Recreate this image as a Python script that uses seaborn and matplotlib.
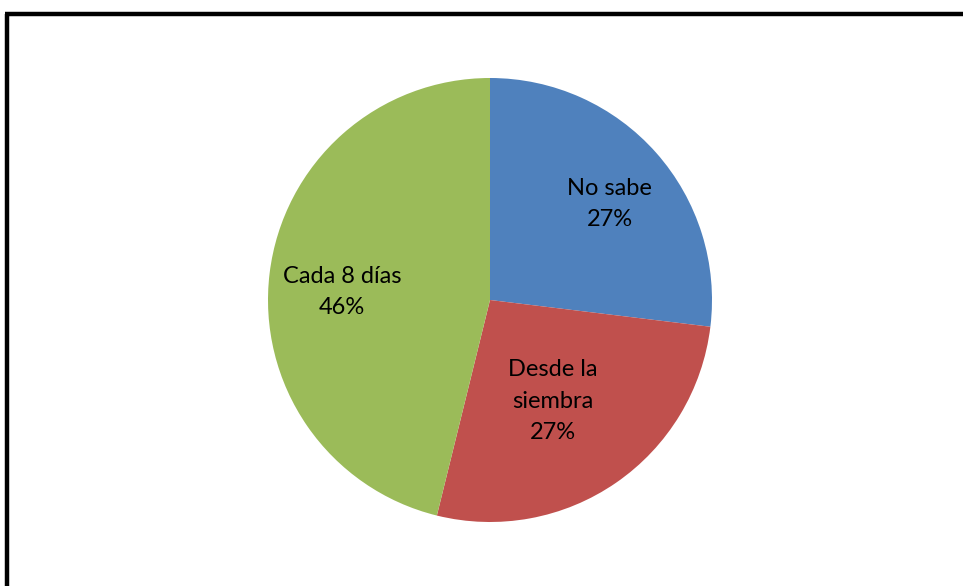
"""Pie chart: frecuencia"""
import numpy as np
import matplotlib
matplotlib.use("Agg")
import matplotlib.pyplot as plt
from matplotlib.lines import Line2D
import seaborn as sns

categories = ["No sabe", "Desde la\nsiembra", "Cada 8 días"]
values = [7, 7, 12]
colors = ["#4F81BD", "#C0504D", "#9BBB59"]
label_dist = [0.72, 0.50, 0.67]

sns.set_theme(style="white")
plt.rcParams["font.family"] = ["Lato", "DejaVu Sans"]

W, H = 963, 586
fig = plt.figure(figsize=(W / 100, H / 100), dpi=100)
cx, cy, r = 490, 300, 222
ax = fig.add_axes([(cx - r) / W, (H - cy - r) / H, 2 * r / W, 2 * r / H])

wedges, _ = ax.pie(values, colors=colors, startangle=90, counterclock=False,
                   radius=1, wedgeprops={"linewidth": 0})
total = sum(values)
for w, cat, val, d in zip(wedges, categories, values, label_dist):
    mid = np.deg2rad((w.theta1 + w.theta2) / 2)
    pct = f"{round(100 * val / total):d}%"
    ax.annotate(f"{cat}\n{pct}", (d * np.cos(mid), d * np.sin(mid)),
                xytext=(0, -7), textcoords="offset points",
                ha="center", va="center", fontsize=17, color="black",
                linespacing=1.6)
ax.set_xlim(-1, 1)
ax.set_ylim(-1, 1)
ax.set_aspect("equal")
ax.axis("off")

# chart frame (only top and left edges are visible in the crop)
fig.add_artist(Line2D([7 / W, 7 / W], [0, 1 - 14 / H], color="black",
                      lw=3.2, transform=fig.transFigure, solid_capstyle="butt"))
fig.add_artist(Line2D([5 / W, 1], [1 - 14 / H, 1 - 14 / H], color="black",
                      lw=3.2, transform=fig.transFigure, solid_capstyle="butt"))

fig.savefig("out.png", dpi=100, facecolor="white")
